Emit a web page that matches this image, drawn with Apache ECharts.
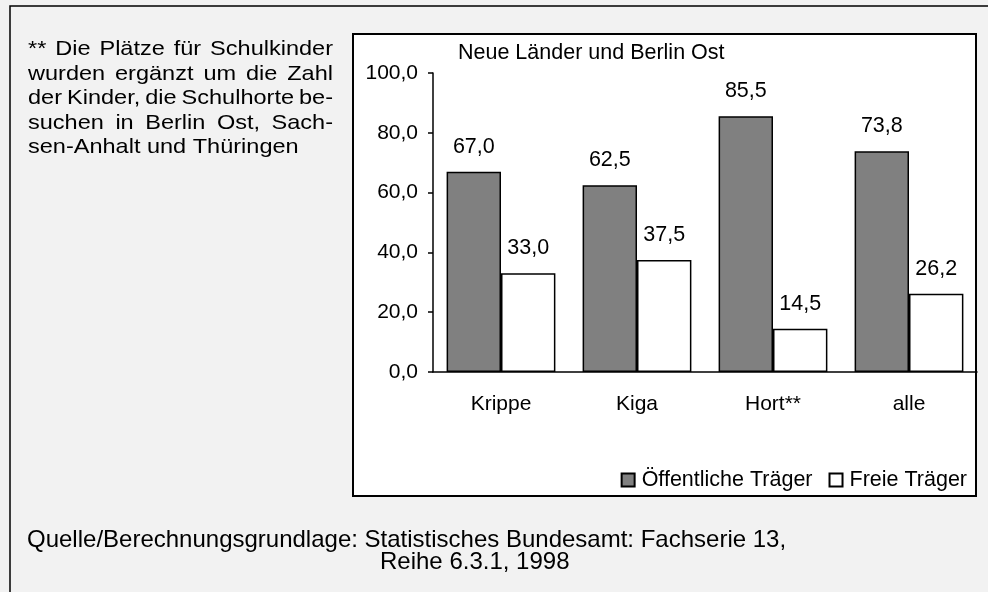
<!DOCTYPE html>
<html>
<head>
<meta charset="utf-8">
<script src="https://cdn.jsdelivr.net/npm/echarts@6/dist/echarts.min.js"></script>
<style>
  html, body { margin: 0; padding: 0; background: #f2f2f2; }
  #chart { width: 988px; height: 592px; }
</style>
</head>
<body>
<div id="chart"></div>
<script>
  // Daten: Anteil der Plätze nach Träger (%)
  const kategorien = ['Krippe', 'Kiga', 'Hort**', 'alle'];
  const oeffentlich = [67.0, 62.5, 85.5, 73.8];
  const frei = [33.0, 37.5, 14.5, 26.2];
  const yTicks = { min: 0, max: 100, interval: 20 };

  const fussnote = [
    '** Die Plätze für Schulkinder',
    'wurden ergänzt um die Zahl',
    'der Kinder, die Schulhorte be-',
    'suchen in Berlin Ost, Sach-',
    'sen-Anhalt und Thüringen',
  ];
  const quelle = [
    'Quelle/Berechnungsgrundlage: Statistisches Bundesamt: Fachserie 13,',
    'Reihe 6.3.1, 1998',
  ];

  const FONT = 'Liberation Sans, Arial, sans-serif';
  const komma = (v) => v.toFixed(1).replace('.', ',');

  // Blocksatz für die Fußnote (Wörter einzeln setzen, leicht gestreckt)
  const ctx = document.createElement('canvas').getContext('2d');
  const fFont = '21px ' + FONT;
  ctx.font = fFont;
  const fx0 = 28, fx1 = 333, fy0 = 50, fdy = 24.5, minLuecke = 5;
  const wortSumme = (zeile) => zeile.split(' ').reduce((a, w) => a + ctx.measureText(w).width, 0);
  let sx = 284 / ctx.measureText(fussnote[fussnote.length - 1]).width;
  fussnote.slice(0, -1).forEach((zeile) => {
    const n = zeile.split(' ').length - 1;
    sx = Math.min(sx, (fx1 - fx0 - n * minLuecke) / wortSumme(zeile));
  });
  const fussText = [];
  fussnote.forEach((zeile, i) => {
    const woerter = zeile.split(' ');
    const y = fy0 + i * fdy - 11;
    if (i === fussnote.length - 1) {
      fussText.push({ type: 'text', x: fx0, y: y, scaleX: sx, style: { text: zeile, font: fFont, fill: '#000' } });
      return;
    }
    const breiten = woerter.map((w) => ctx.measureText(w).width * sx);
    const summe = breiten.reduce((a, b) => a + b, 0);
    const luecke = (fx1 - fx0 - summe) / (woerter.length - 1);
    let x = fx0;
    woerter.forEach((w, k) => {
      fussText.push({ type: 'text', x: x, y: y, scaleX: sx, style: { text: w, font: fFont, fill: '#000' } });
      x += breiten[k] + luecke;
    });
  });

  const chart = echarts.init(document.getElementById('chart'), null, { renderer: 'canvas' });

  const wertLabel = {
    show: true,
    position: 'top',
    distance: 14,
    fontSize: 21.5,
    color: '#000',
    fontFamily: FONT,
    formatter: (p) => komma(p.value),
  };

  const option = {
    backgroundColor: '#f2f2f2',
    animation: false,
    textStyle: { fontFamily: FONT, color: '#000' },
    title: {
      text: 'Neue Länder und Berlin Ost',
      left: 458,
      top: 42,
      padding: 0,
      textStyle: { fontSize: 21.5, fontWeight: 'normal', color: '#000', fontFamily: FONT },
    },
    legend: {
      right: 21,
      top: 469,
      padding: 0,
      itemWidth: 13,
      itemHeight: 13,
      itemGap: 16,
      icon: 'rect',
      textStyle: { fontSize: 21.5, color: '#000', fontFamily: FONT, padding: [0, 0, 0, 2] },
      data: ['Öffentliche Träger', 'Freie Träger'],
    },
    grid: {
      left: 433,
      right: 11,
      top: 73,
      bottom: 220,
      containLabel: false,
    },
    xAxis: {
      type: 'category',
      data: kategorien,
      axisLine: { lineStyle: { color: '#000', width: 1.5 } },
      axisTick: { show: false },
      axisLabel: { fontSize: 21, color: '#000', margin: 22, fontFamily: FONT },
    },
    yAxis: {
      type: 'value',
      min: yTicks.min,
      max: yTicks.max,
      interval: yTicks.interval,
      axisLine: { show: true, lineStyle: { color: '#000', width: 1.5 } },
      axisTick: { show: true, length: 5, lineStyle: { color: '#000', width: 1.5 } },
      splitLine: { show: false },
      axisLabel: { fontSize: 21, color: '#000', margin: 15, fontFamily: FONT, formatter: komma },
    },
    series: [
      {
        name: 'Öffentliche Träger',
        type: 'bar',
        data: oeffentlich,
        barGap: '0%',
        barCategoryGap: '20%',
        itemStyle: { color: '#808080', borderColor: '#000', borderWidth: 1.5 },
        label: wertLabel,
      },
      {
        name: 'Freie Träger',
        type: 'bar',
        data: frei,
        itemStyle: { color: '#ffffff', borderColor: '#000', borderWidth: 1.5 },
        label: wertLabel,
      },
    ],
    graphic: [
      // äußerer Rahmen
      {
        type: 'rect',
        z: -10,
        shape: { x: 10, y: 6, width: 1000, height: 620 },
        style: { fill: 'none', stroke: '#000', lineWidth: 1.5 },
        silent: true,
      },
      // Rahmen um das Diagramm
      {
        type: 'rect',
        z: -5,
        shape: { x: 353, y: 34, width: 623, height: 462 },
        style: { fill: '#fff', stroke: '#000', lineWidth: 2 },
        silent: true,
      },
      ...fussText,
      {
        type: 'text',
        x: 27,
        y: 528,
        style: { text: quelle[0], font: '24px ' + FONT, fill: '#000' },
      },
      {
        type: 'text',
        x: 380,
        y: 550,
        style: { text: quelle[1], font: '24px ' + FONT, fill: '#000' },
      },
    ],
  };

  chart.setOption(option);
</script>
</body>
</html>
